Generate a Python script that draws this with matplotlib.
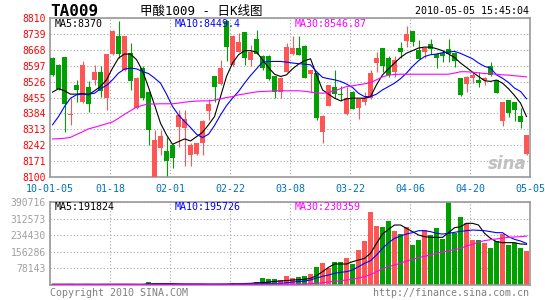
import matplotlib
matplotlib.use('Agg')
import matplotlib.pyplot as plt
import numpy as np

W, H = 545, 300

# x-axis labels (every 10 trading days)
date_ticks = ['10-01-05', '01-18', '02-01', '02-22', '03-08', '03-22', '04-06', '04-20', '05-05']

# daily OHLC, 80 trading days
opens = [8631, 8601, 8634, 8378, 8512, 8433, 8504, 8531, 8568, 8452,
         8649, 8728, 8579, 8653, 8407, 8586, 8479, 8100, 8228, 8216,
         8243, 8325, 8321, 8198, 8201, 8253, 8396, 8551, 8514, 8797,
         8599, 8659, 8746, 8622, 8718, 8642, 8642, 8551, 8481, 8571,
         8651, 8677, 8686, 8559, 8563, 8300, 8418, 8503, 8470, 8381,
         8481, 8409, 8436, 8451, 8608, 8675, 8633, 8570, 8677, 8709,
         8752, 8668, 8659, 8693, 8651, 8655, 8672, 8655, 8541, 8514,
         8541, 8531, 8531, 8597, 8533, 8350, 8444, 8433, 8374, 8201]
highs = [8635, 8603, 8636, 8452, 8534, 8616, 8527, 8598, 8594, 8651,
         8758, 8798, 8730, 8698, 8548, 8594, 8481, 8310, 8310, 8280,
         8246, 8400, 8400, 8250, 8254, 8353, 8448, 8553, 8622, 8800,
         8733, 8742, 8748, 8690, 8756, 8644, 8644, 8553, 8548, 8697,
         8731, 8731, 8688, 8578, 8565, 8376, 8513, 8578, 8508, 8503,
         8483, 8450, 8480, 8580, 8659, 8677, 8640, 8642, 8704, 8773,
         8754, 8712, 8679, 8716, 8653, 8665, 8716, 8657, 8543, 8550,
         8570, 8570, 8546, 8615, 8535, 8435, 8446, 8435, 8409, 8289]
lows = [8552, 8490, 8300, 8330, 8437, 8431, 8389, 8512, 8459, 8400,
        8647, 8631, 8572, 8489, 8405, 8445, 8243, 8095, 8198, 8095,
        8142, 8236, 8151, 8151, 8198, 8198, 8354, 8436, 8512, 8618,
        8597, 8657, 8600, 8597, 8649, 8580, 8535, 8453, 8453, 8569,
        8645, 8645, 8542, 8481, 8355, 8250, 8416, 8453, 8439, 8379,
        8402, 8359, 8420, 8449, 8570, 8570, 8548, 8548, 8633, 8682,
        8686, 8626, 8633, 8648, 8588, 8613, 8613, 8593, 8462, 8481,
        8518, 8503, 8511, 8553, 8475, 8329, 8369, 8350, 8317, 8199]
closes = [8556, 8494, 8428, 8382, 8489, 8598, 8428, 8567, 8482, 8649,
          8753, 8649, 8728, 8527, 8544, 8452, 8310, 8265, 8285, 8171,
          8183, 8377, 8360, 8243, 8252, 8351, 8426, 8503, 8585, 8679,
          8731, 8704, 8633, 8659, 8651, 8585, 8538, 8481, 8541, 8682,
          8677, 8647, 8544, 8576, 8365, 8374, 8511, 8469, 8468, 8454,
          8404, 8448, 8454, 8563, 8633, 8597, 8555, 8622, 8659, 8739,
          8704, 8628, 8677, 8672, 8633, 8640, 8651, 8617, 8464, 8548,
          8555, 8519, 8544, 8555, 8477, 8433, 8384, 8399, 8347, 8287]

# moving averages as drawn
ma5 = [8479, 8494, 8485, 8470, 8470, 8473, 8467, 8485, 8504, 8534,
       8586, 8631, 8649, 8649, 8624, 8574, 8500, 8422, 8340, 8288,
       8246, 8258, 8270, 8261, 8280, 8300, 8333, 8370, 8459, 8549,
       8609, 8646, 8664, 8664, 8658, 8624, 8589, 8559, 8549, 8556,
       8583, 8604, 8619, 8628, 8556, 8489, 8470, 8452, 8440, 8449,
       8452, 8452, 8452, 8459, 8512, 8556, 8583, 8609, 8634, 8653,
       8664, 8676, 8680, 8680, 8673, 8664, 8649, 8634, 8609, 8589,
       8568, 8549, 8530, 8527, 8533, 8519, 8494, 8464, 8430, 8370]
ma10 = [8333, 8370, 8415, 8452, 8467, 8470, 8470, 8474, 8494, 8509,
        8534, 8564, 8582, 8586, 8583, 8571, 8562, 8542, 8519, 8470,
        8415, 8377, 8348, 8321, 8291, 8276, 8291, 8330, 8377, 8419,
        8452, 8482, 8519, 8553, 8583, 8613, 8616, 8616, 8616, 8613,
        8609, 8606, 8604, 8601, 8571, 8545, 8539, 8534, 8527, 8515,
        8500, 8474, 8459, 8459, 8470, 8489, 8504, 8519, 8539, 8564,
        8594, 8619, 8638, 8646, 8649, 8655, 8658, 8661, 8652, 8640,
        8628, 8609, 8594, 8586, 8556, 8541, 8522, 8497, 8482, 8449.4]
ma30 = [8270, 8271, 8273, 8277, 8290, 8302, 8315, 8322, 8330, 8338,
        8346, 8362, 8380, 8396, 8412, 8420, 8426, 8426, 8427, 8427,
        8427, 8430, 8434, 8437, 8439, 8440, 8440, 8443, 8449, 8455,
        8459, 8467, 8471, 8476, 8480, 8482, 8483, 8485, 8485, 8485,
        8485, 8485, 8483, 8479, 8476, 8474, 8477, 8485, 8494, 8504,
        8507, 8512, 8516, 8522, 8534, 8547, 8555, 8558, 8559, 8559,
        8559, 8559, 8559, 8559, 8559, 8559, 8559, 8564, 8570, 8570,
        8568, 8565, 8562, 8561, 8559, 8556, 8555, 8552, 8550, 8546.87]

volumes = [3000, 2500, 4000, 2000, 2500, 3500, 2000, 3000, 2500, 4000,
           3500, 3000, 2500, 3000, 2000, 2500, 14000, 8000, 3000, 4000,
           3000, 3500, 4000, 3500, 3000, 4500, 3500, 4000, 3500, 4500,
           11000, 5000, 11000, 7000, 16000, 34000, 30000, 28000, 23500, 44000,
           33000, 39000, 42000, 52000, 86000, 105000, 81500, 110000, 110000, 128500,
           99000, 165000, 208500, 345000, 279000, 274500, 301000, 255700, 240000, 274500,
           188300, 211800, 258900, 235400, 269800, 216500, 390716, 243200, 321600, 290300,
           212000, 210000, 196000, 172000, 208000, 240000, 186000, 200000, 172000, 161000]
vol_ma5 = [3100, 3000, 2900, 3200, 2800, 2900, 3000, 2700, 2900, 3100,
           3000, 3100, 3200, 2900, 2800, 2700, 4700, 5800, 6300, 6400,
           6400, 4400, 3600, 3600, 3600, 3700, 3700, 3700, 3800, 3900,
           5200, 5600, 6900, 7800, 10000, 11000, 13600, 17000, 18800, 21000,
           23500, 25000, 26700, 31400, 43900, 62700, 83200, 98800, 98800, 98800,
           109800, 117700, 125500, 149000, 196100, 240000, 262000, 282400, 282400, 266700,
           251100, 235400, 227500, 224400, 224400, 224400, 246300, 269800, 274500, 290300,
           290300, 282400, 243200, 219700, 204000, 199300, 199300, 199300, 193000, 191824]
vol_ma10 = [3000, 3000, 3100, 3000, 2900, 3000, 3000, 2900, 2900, 3000,
            3000, 3000, 3000, 3000, 2900, 2900, 3600, 4100, 4600, 4700,
            4700, 4600, 4600, 4500, 4500, 4400, 3700, 3700, 3700, 3800,
            4000, 4200, 4500, 4800, 5500, 6200, 6800, 7300, 7800, 10500,
            14100, 16500, 18800, 23500, 33000, 40800, 47000, 54900, 59600, 62700,
            70600, 86300, 102000, 114500, 141200, 172600, 199300, 219700, 230600, 240000,
            246300, 255700, 255700, 251100, 243200, 240000, 243200, 248000, 252600, 255700,
            258900, 257300, 255700, 251100, 246300, 246300, 227500, 214900, 207100, 195726]
vol_ma30 = [2600, 2600, 2700, 2700, 2700, 2700, 2800, 2800, 2800, 2800,
            2900, 2900, 2900, 2900, 2900, 2900, 3100, 3300, 3300, 3300,
            3300, 3300, 3400, 3400, 3400, 3400, 3400, 3400, 3500, 3500,
            3600, 3700, 3800, 3900, 4000, 4100, 4200, 4300, 4400, 4500,
            4600, 4700, 4800, 6000, 7800, 11000, 14100, 17000, 20400, 23500,
            26700, 33000, 39200, 48700, 62700, 76800, 86300, 94100, 102000, 113000,
            120800, 128700, 134900, 141200, 149000, 155300, 161600, 166300, 172600, 183600,
            191400, 202400, 208700, 213400, 216500, 221200, 224400, 225900, 227500, 230359]

price_ticks = [8100, 8171, 8242, 8313, 8384, 8455, 8526, 8597, 8668, 8739, 8810]
vol_ticks = [78143, 156286, 234430, 312573, 390716]

RED = '#ff5555'
GREEN = '#00a000'
MONO = 'DejaVu Sans Mono'


def fx(px):
    return px / W


def fy(py):
    return 1 - py / H


fig = plt.figure(figsize=(W / 100, H / 100), dpi=100)
fig.patch.set_facecolor('white')
ax = fig.add_axes([fx(50), fy(177), 480 / W, 159 / H])
axv = fig.add_axes([fx(50), fy(285), 480 / W, 83 / H])

n = len(closes)
x = np.arange(n) + 0.42
o = np.array(opens, dtype=float)
c = np.array(closes, dtype=float)
colors = np.where(c >= o, RED, GREEN)

# candles
ax.vlines(x, lows, highs, colors=colors, linewidth=0.8, zorder=2)
ax.bar(x, np.maximum(np.abs(c - o), 1.5), bottom=np.minimum(o, c), width=0.8,
       color=colors, linewidth=0, zorder=3)
ax.plot(x, ma5, color='black', lw=0.8, zorder=4)
ax.plot(x, ma10, color='#0000ff', lw=0.8, zorder=4)
ax.plot(x, ma30, color='#ff00ff', lw=0.8, zorder=4)

# volume
axv.bar(x, volumes, width=0.8, color=colors, linewidth=0, zorder=2)
axv.plot(x, vol_ma5, color='black', lw=0.8, zorder=4)
axv.plot(x, vol_ma10, color='#0000ff', lw=0.8, zorder=4)
axv.plot(x, vol_ma30, color='#ff00ff', lw=0.8, zorder=4)

for a in (ax, axv):
    a.set_xlim(0, n)
    a.set_xticks(range(0, n + 1, 10))
    a.grid(True, color='#a8a8a8', linestyle=(0, (1, 2)), linewidth=0.8)
    a.set_axisbelow(True)
    for s in a.spines.values():
        s.set_color('#999999')
        s.set_linewidth(1.2)
    a.tick_params(length=0)

ax.set_ylim(8100, 8810)
ax.set_yticks(price_ticks)
ax.set_yticklabels([str(t) for t in price_ticks], color='#ff0000',
                   fontfamily=MONO, fontsize=7)
ax.set_xticklabels(date_ticks, color='#0070c0', fontfamily=MONO, fontsize=7.2)
ax.tick_params(axis='y', pad=3)
ax.tick_params(axis='x', pad=5)

axv.set_ylim(0, 390716)
axv.set_yticks(vol_ticks)
axv.set_yticklabels([str(t) for t in vol_ticks], color='#a0a0a0',
                    fontfamily=MONO, fontsize=7)
axv.tick_params(axis='y', pad=3)
axv.set_xticklabels([])

# header
fig.text(fx(50), fy(11), 'TA009', fontfamily=MONO, fontweight='bold',
         fontsize=11.5, va='center', ha='left')
fig.text(fx(140), fy(11), '甲酸1009 - 日K线图',
         fontfamily=[MONO, 'Noto Sans CJK SC'], fontsize=9,
         va='center', ha='left')
fig.text(fx(529), fy(11), '2010-05-05 15:45:04', fontfamily=MONO,
         fontsize=7.2, va='center', ha='right')

# MA legends
for y0, labels in ((24, ['MA5:8370', 'MA10:8449.4', 'MA30:8546.87']),
                   (207, ['MA5:191824', 'MA10:195726', 'MA30:230359'])):
    for xp, txt, col in zip((55, 175, 295), labels, ('black', '#0000ff', '#ff00ff')):
        fig.text(fx(xp), fy(y0), txt, color=col, fontfamily=MONO,
                 fontsize=7.2, va='center', ha='left')

# footer
fig.text(fx(50), fy(293), 'Copyright 2010 SINA.COM', color='#808080',
         fontfamily=MONO, fontsize=7.2, va='center', ha='left')
fig.text(fx(529), fy(293), 'http://finance.sina.com.cn', color='#808080',
         fontfamily=MONO, fontsize=7.2, va='center', ha='right')

# watermark
fig.text(fx(527), fy(164), 'sina', color='#c0c0c0', fontsize=12,
         fontweight='bold', fontstyle='italic', va='center', ha='right')

fig.savefig('out.png', dpi=100)
